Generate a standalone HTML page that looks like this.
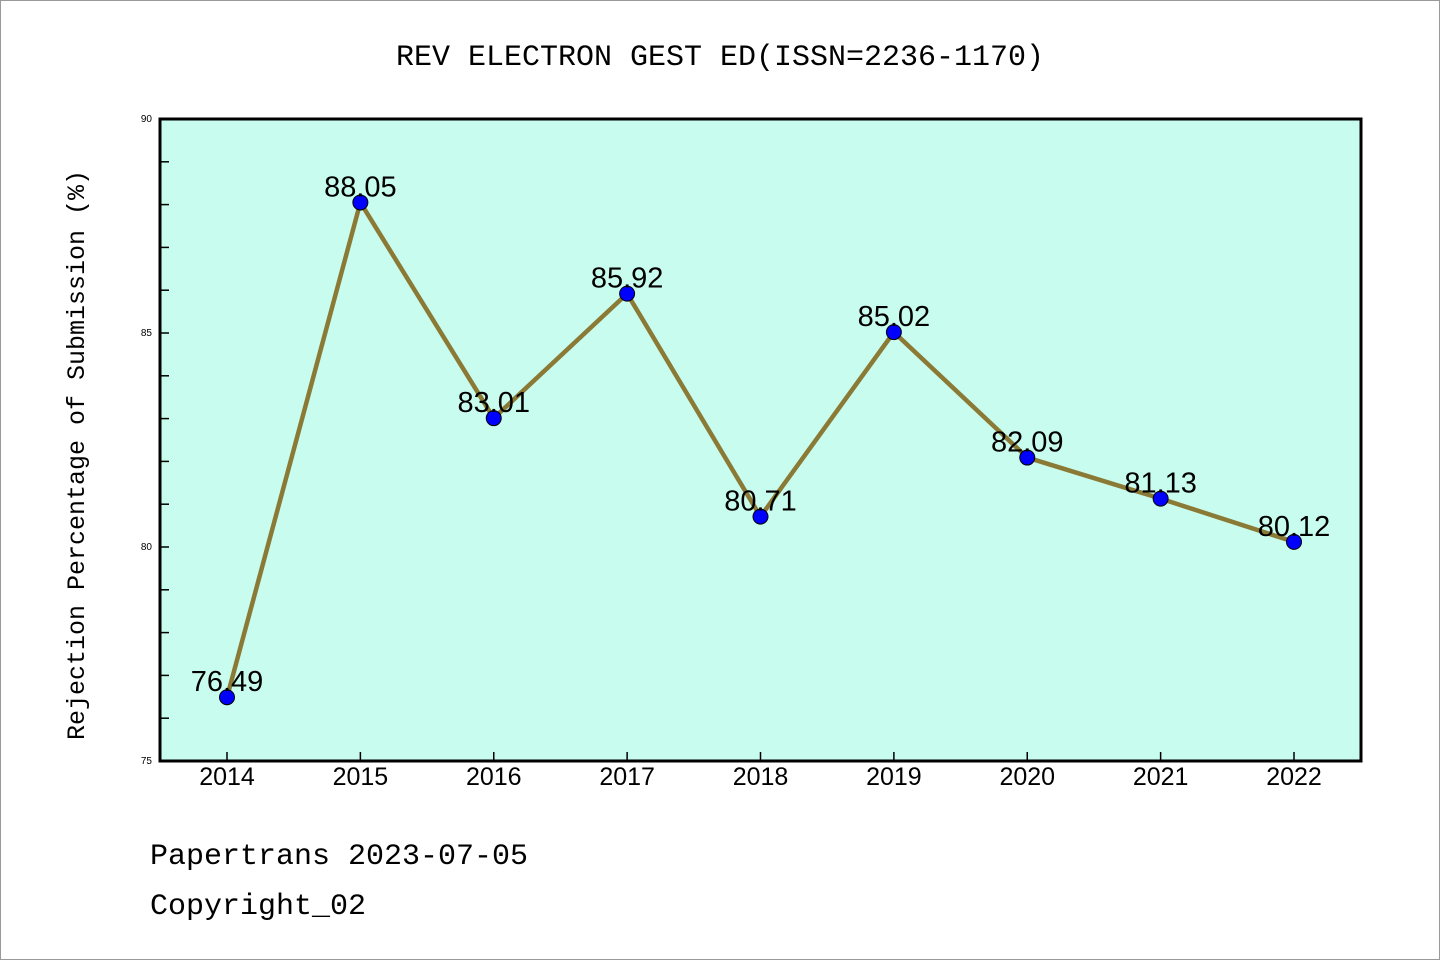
<!DOCTYPE html>
<html><head><meta charset="utf-8"><style>
html,body{margin:0;padding:0;background:#fff}
svg{display:block}
</style></head><body>
<svg width="1440" height="960" xmlns="http://www.w3.org/2000/svg">
<rect x="0.5" y="0.5" width="1439" height="959" fill="#fff" stroke="#999"/>
<text x="720" y="65" text-anchor="middle" font-family="Liberation Mono, monospace" font-size="30">REV ELECTRON GEST ED(ISSN=2236-1170)</text>
<rect x="160" y="119" width="1201" height="642" fill="#c8fcee"/>
<g id="axes"></g>
<g id="marks"></g>
<rect x="160" y="119" width="1201" height="642" fill="none" stroke="#000" stroke-width="3"/>
<text transform="translate(84,455) rotate(-90)" text-anchor="middle" font-family="Liberation Mono, monospace" font-size="25">Rejection Percentage of Submission (%)</text>
<text x="150" y="864" font-family="Liberation Mono, monospace" font-size="30">Papertrans 2023-07-05</text>
<text x="150" y="914" font-family="Liberation Mono, monospace" font-size="30">Copyright_02</text>
</svg>
<script>
const years = ['2014','2015','2016','2017','2018','2019','2020','2021','2022'];
const values = [76.49, 88.05, 83.01, 85.92, 80.71, 85.02, 82.09, 81.13, 80.12];
const valueLabels = ['76.49','88.05','83.01','85.92','80.71','85.02','82.09','81.13','80.12'];
const yTickLabels = ['75','80','85','90'];
const yMin = 75, yMax = 90;
const NS = 'http://www.w3.org/2000/svg';
function xPos(i){ return 227 + i * (1294 - 227) / (years.length - 1); }
function yPos(v){ return 761 - (v - yMin) / (yMax - yMin) * 642; }
function mk(tag, attrs, parent){ const e = document.createElementNS(NS, tag); for (const k in attrs) e.setAttribute(k, attrs[k]); parent.appendChild(e); return e; }
const axes = document.getElementById('axes');
const marks = document.getElementById('marks');
for (let v = yMin; v <= yMax; v++) {
  const t = mk('line', {x1:160, x2:169, y1:yPos(v), y2:yPos(v), stroke:'#000', 'stroke-width':1.5}, axes);
  
  
}
yTickLabels.forEach(l => {
  const t = mk('text', {x:152, y:yPos(+l)+3, 'text-anchor':'end', 'font-family':'Liberation Sans, sans-serif', 'font-size':10}, axes);
  t.textContent = l;
  
  
});
years.forEach((y, i) => {
  const t = mk('line', {x1:xPos(i), x2:xPos(i), y1:752, y2:761, stroke:'#000', 'stroke-width':1.5}, axes);
  
  
  const l = mk('text', {x:xPos(i), y:785, 'text-anchor':'middle', 'font-family':'Liberation Sans, sans-serif', 'font-size':25}, axes);
  l.textContent = y;
  
  
});
const pts = values.map((v, i) => xPos(i) + ',' + yPos(v)).join(' ');
const line = mk('polyline', {points:pts, fill:'none', stroke:'#8b7a35', 'stroke-width':4.5, 'stroke-linejoin':'round'}, marks);


values.forEach((v, i) => {
  const c = mk('circle', {cx:xPos(i), cy:yPos(v), r:7.5, fill:'#0000ff', stroke:'#000', 'stroke-width':1}, marks);
  
  
  const t = mk('text', {x:xPos(i), y:yPos(v)-6, 'text-anchor':'middle', 'font-family':'Liberation Sans, sans-serif', 'font-size':29}, marks);
  t.textContent = valueLabels[i];
  
  
});
</script>
</body></html>
